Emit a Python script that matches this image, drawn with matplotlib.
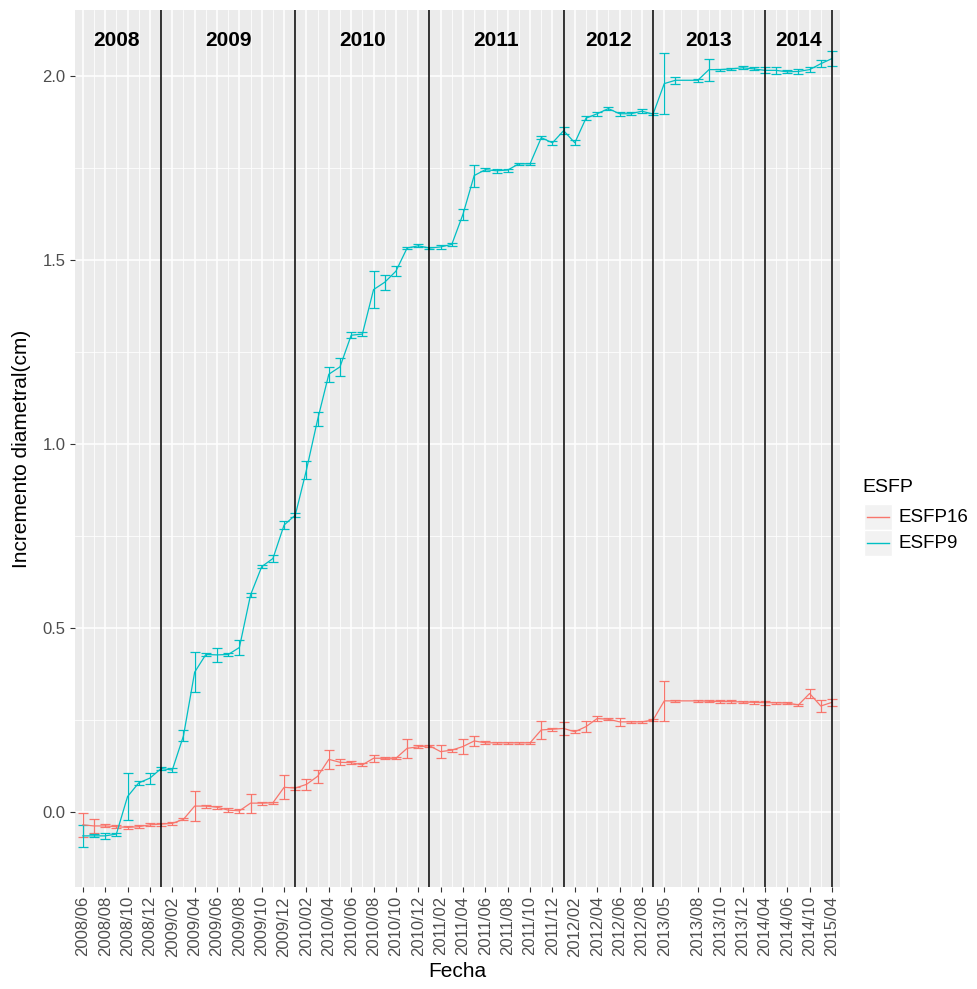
import matplotlib.pyplot as plt
from matplotlib.patches import Rectangle
from matplotlib.lines import Line2D

plt.rcParams['font.family'] = ['Liberation Sans', 'DejaVu Sans']

# sampling index (one step ~ one month on the plotted axis)
t9 = [0, 1, 2, 3, 4, 5, 6, 7, 8, 9, 10, 11, 12, 13, 14, 15, 16, 17, 18, 19,
      20, 21, 22, 23, 24, 25, 26, 27, 28, 29, 30, 31, 32, 33, 34, 35, 36, 37,
      38, 39, 40, 41, 42, 43, 44, 45, 46, 47, 48, 49, 50, 51, 52, 53, 55, 56,
      57, 58, 59, 60, 61, 62, 63, 64, 65, 66, 67]
esfp9 = [-0.065, -0.065, -0.065, -0.060, 0.042, 0.079, 0.092, 0.118, 0.114,
         0.207, 0.380, 0.428, 0.427, 0.428, 0.447, 0.590, 0.667, 0.689, 0.780,
         0.807, 0.930, 1.067, 1.190, 1.210, 1.296, 1.299, 1.420, 1.440, 1.470,
         1.533, 1.539, 1.533, 1.536, 1.543, 1.625, 1.730, 1.746, 1.743, 1.745,
         1.762, 1.762, 1.833, 1.819, 1.852, 1.819, 1.886, 1.898, 1.912, 1.898,
         1.898, 1.905, 1.897, 1.980, 1.989, 1.989, 2.018, 2.018, 2.020, 2.023,
         2.020, 2.016, 2.016, 2.012, 2.013, 2.018, 2.034, 2.048]
err9 = [0.030, 0.004, 0.008, 0.004, 0.065, 0.006, 0.015, 0.005, 0.005, 0.015,
        0.055, 0.005, 0.020, 0.004, 0.020, 0.006, 0.004, 0.010, 0.010, 0.006,
        0.025, 0.019, 0.020, 0.025, 0.008, 0.005, 0.050, 0.020, 0.014, 0.004,
        0.004, 0.004, 0.005, 0.005, 0.015, 0.030, 0.004, 0.005, 0.004, 0.003,
        0.003, 0.004, 0.006, 0.010, 0.007, 0.006, 0.006, 0.004, 0.006, 0.004,
        0.005, 0.003, 0.083, 0.010, 0.004, 0.030, 0.003, 0.003, 0.004, 0.004,
        0.008, 0.010, 0.004, 0.006, 0.006, 0.010, 0.020]

t16 = t9
esfp16 = [-0.035, -0.038, -0.038, -0.040, -0.042, -0.040, -0.035, -0.033,
          -0.031, -0.020, 0.016, 0.016, 0.013, 0.005, 0.003, 0.024, 0.024,
          0.025, 0.067, 0.065, 0.075, 0.097, 0.143, 0.135, 0.134, 0.128, 0.146,
          0.146, 0.146, 0.173, 0.177, 0.180, 0.164, 0.168, 0.178, 0.193, 0.188,
          0.188, 0.188, 0.188, 0.188, 0.223, 0.225, 0.227, 0.218, 0.232, 0.254,
          0.252, 0.245, 0.245, 0.245, 0.250, 0.302, 0.302, 0.302, 0.301, 0.300,
          0.300, 0.299, 0.298, 0.297, 0.297, 0.296, 0.291, 0.322, 0.288, 0.298]
err16 = [0.033, 0.020, 0.004, 0.004, 0.004, 0.004, 0.004, 0.004, 0.004, 0.003,
         0.040, 0.004, 0.004, 0.005, 0.005, 0.026, 0.004, 0.003, 0.033, 0.004,
         0.015, 0.018, 0.025, 0.008, 0.004, 0.004, 0.010, 0.003, 0.003, 0.025,
         0.004, 0.003, 0.018, 0.004, 0.020, 0.014, 0.004, 0.003, 0.003, 0.003,
         0.003, 0.025, 0.004, 0.018, 0.004, 0.014, 0.006, 0.003, 0.010, 0.003,
         0.003, 0.003, 0.055, 0.003, 0.003, 0.003, 0.003, 0.003, 0.003, 0.004,
         0.005, 0.003, 0.003, 0.003, 0.013, 0.015, 0.010]

tick_pos = [0, 2, 4, 6, 8, 10, 12, 14, 16, 18, 20, 22, 24, 26, 28, 30, 32, 34,
            36, 38, 40, 42, 44, 46, 48, 50, 52, 55, 57, 59, 61, 63, 65, 67]
tick_labels = ['2008/06', '2008/08', '2008/10', '2008/12', '2009/02', '2009/04',
               '2009/06', '2009/08', '2009/10', '2009/12', '2010/02', '2010/04',
               '2010/06', '2010/08', '2010/10', '2010/12', '2011/02', '2011/04',
               '2011/06', '2011/08', '2011/10', '2011/12', '2012/02', '2012/04',
               '2012/06', '2012/08', '2013/05', '2013/08', '2013/10', '2013/12',
               '2014/04', '2014/06', '2014/10', '2015/04']

year_lines = [7, 19, 31, 43, 51, 61, 67]
years = ['2008', '2009', '2010', '2011', '2012', '2013', '2014']
year_pos = [3, 13, 25, 37, 47, 56, 64]

red = '#F8766D'
cyan = '#00BFC4'

fig = plt.figure(figsize=(9.78, 9.89), dpi=100)
ax = fig.add_axes([0.0767, 0.1035, 0.782, 0.886])
ax.set_facecolor('#EBEBEB')
for s in ax.spines.values():
    s.set_visible(False)

ax.set_xticks(tick_pos)
ax.set_xticklabels(tick_labels, rotation=90, fontsize=12, color='#4D4D4D')
minor_x = [(a + b) / 2 for a, b in zip(tick_pos[:-1], tick_pos[1:])]
ax.set_xticks(minor_x, minor=True)
ax.set_yticks([0, 0.5, 1.0, 1.5, 2.0])
ax.set_yticklabels(['0.0', '0.5', '1.0', '1.5', '2.0'], fontsize=12, color='#4D4D4D')
ax.set_yticks([0.25, 0.75, 1.25, 1.75], minor=True)
ax.tick_params(which='major', length=3.8, width=0.8, color='#333333', pad=3)
ax.tick_params(which='minor', length=0)
ax.grid(which='major', color='white', lw=1.1)
ax.grid(which='minor', color='white', lw=0.55)
ax.set_axisbelow(True)

ax.errorbar(t16, esfp16, yerr=err16, color=red, lw=0.9, elinewidth=0.9,
            capsize=3.6, capthick=0.9, zorder=3)
ax.errorbar(t9, esfp9, yerr=err9, color=cyan, lw=0.9, elinewidth=0.9,
            capsize=3.6, capthick=0.9, zorder=3)

for x in year_lines:
    ax.axvline(x, color='black', lw=1.1, zorder=4)
for x, s in zip(year_pos, years):
    ax.text(x, 2.098, s, ha='center', va='center', fontsize=15,
            fontweight='bold', color='black')

ax.set_xlim(-0.7, 67.7)
ax.set_ylim(-0.203, 2.179)

ax.set_xlabel('Fecha', fontsize=15, labelpad=4)
ax.set_ylabel('Incremento diametral(cm)', fontsize=15, labelpad=8)

# legend drawn by hand, ggplot style
fig.text(862 / 978, 1 - 488 / 989, 'ESFP', fontsize=14, ha='left', va='center')
for i, (lab, col) in enumerate([('ESFP16', red), ('ESFP9', cyan)]):
    y0 = 1 - (530 + 26 * i) / 989
    fig.patches.append(Rectangle((864 / 978, y0), 28 / 978, 26 / 989,
                                 transform=fig.transFigure, facecolor='#F2F2F2',
                                 edgecolor='white', lw=1))
    fig.lines.append(Line2D([867 / 978, 889 / 978], [y0 + 13 / 989] * 2,
                            transform=fig.transFigure, color=col, lw=1))
    fig.text(899 / 978, y0 + 13 / 989, lab, fontsize=13.5, ha='left', va='center')

fig.savefig('out.png', dpi=100)
